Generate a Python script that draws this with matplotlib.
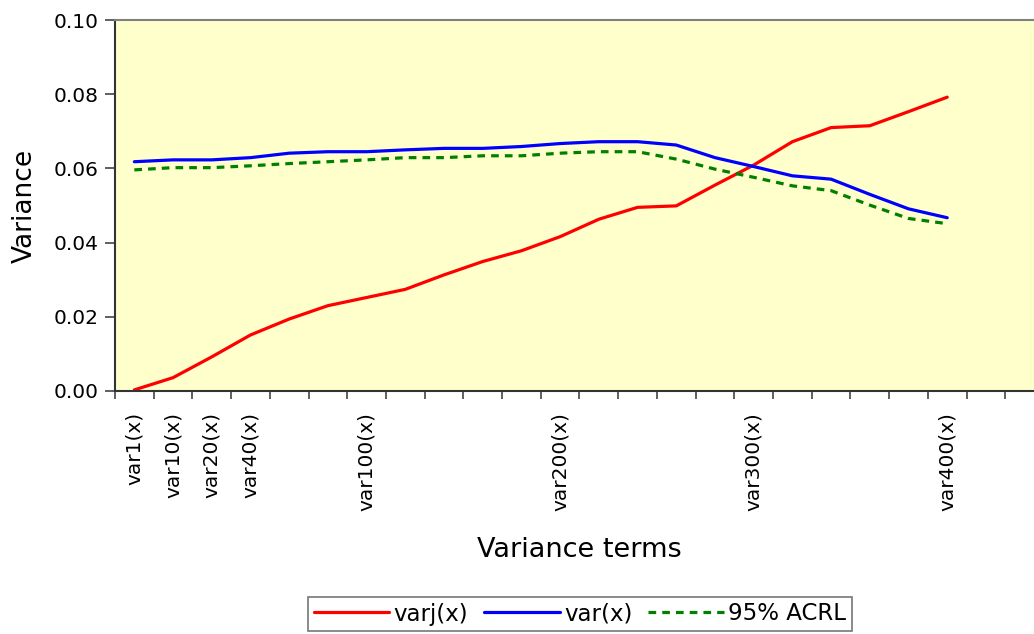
import matplotlib
matplotlib.use("Agg")
import matplotlib.pyplot as plt

# 24 category slots, only some are labelled; last two hold no data
labels = ["var1(x)", "var10(x)", "var20(x)", "var40(x)", "", "", "var100(x)",
          "", "", "", "", "var200(x)", "", "", "", "", "var300(x)",
          "", "", "", "", "var400(x)", "", ""]

varj = [0.0003, 0.0036, 0.0092, 0.0151, 0.0194, 0.0230, 0.0252, 0.0274,
        0.0313, 0.0349, 0.0378, 0.0416, 0.0463, 0.0495, 0.0499, 0.0555,
        0.0609, 0.0672, 0.0710, 0.0715, 0.0753, 0.0792]
var = [0.0618, 0.0623, 0.0623, 0.0629, 0.0641, 0.0645, 0.0645, 0.0650,
       0.0654, 0.0654, 0.0659, 0.0667, 0.0672, 0.0672, 0.0663, 0.0629,
       0.0605, 0.0580, 0.0571, 0.0530, 0.0491, 0.0467]
acrl = [0.0596, 0.0602, 0.0602, 0.0607, 0.0613, 0.0618, 0.0623, 0.0629,
        0.0629, 0.0634, 0.0634, 0.0641, 0.0645, 0.0645, 0.0625, 0.0598,
        0.0576, 0.0553, 0.0540, 0.0501, 0.0465, 0.0451]

plt.rcParams['font.family'] = ['DejaVu Sans']

fig = plt.figure(figsize=(10.34, 6.34), dpi=100)
# plot area runs past the right edge of the picture, as in the original
ax = fig.add_axes([115 / 1034, 1 - 391 / 634, 929 / 1034, 371 / 634])
ax.set_facecolor("#FFFFCC")

x = list(range(len(varj)))
ax.plot(x, varj, color="#FF0000", lw=2.3, label="varj(x)", solid_capstyle="round")
ax.plot(x, var, color="#0000FF", lw=2.3, label="var(x)", solid_capstyle="round")
ax.plot(x, acrl, color="#008000", lw=2.3, dashes=(2.4, 1.9), label="95% ACRL")

n = len(labels)
ax.set_xlim(-0.5, n - 0.5)
ax.set_ylim(0, 0.10)
yt = [0, 0.02, 0.04, 0.06, 0.08, 0.10]
ax.set_yticks(yt)
ax.set_yticklabels(["%.2f" % v for v in yt])
ax.set_xticks(range(n))
ax.set_xticklabels(labels, rotation=90, fontsize=14.5)
ax.set_xticks([i - 0.5 for i in range(n + 1)], minor=True)
ax.tick_params(axis="x", which="major", length=0, pad=15)
ax.tick_params(axis="x", which="minor", length=6, width=1.2, color="#444444", direction="out")
ax.tick_params(axis="y", length=7, width=1.2, color="#444444", labelsize=14.5, pad=5)

for s in ["left", "bottom"]:
    ax.spines[s].set_color("#333333")
    ax.spines[s].set_linewidth(1.5)
ax.spines["top"].set_color("#808080")
ax.spines["top"].set_linewidth(1.5)
ax.spines["right"].set_visible(False)

ax.set_ylabel("Variance", fontsize=19, labelpad=11)
ax.set_xlabel("Variance terms", fontsize=19.5, labelpad=19)

leg = fig.legend(loc="center", bbox_to_anchor=(580 / 1034, 1 - 614 / 634), ncol=3,
                 fontsize=16.5, frameon=True, fancybox=False, edgecolor="#555555",
                 handlelength=3.3, handletextpad=0.18, columnspacing=0.7,
                 borderpad=0.25)
leg.get_frame().set_linewidth(1.2)

fig.savefig("out.png", dpi=100)
